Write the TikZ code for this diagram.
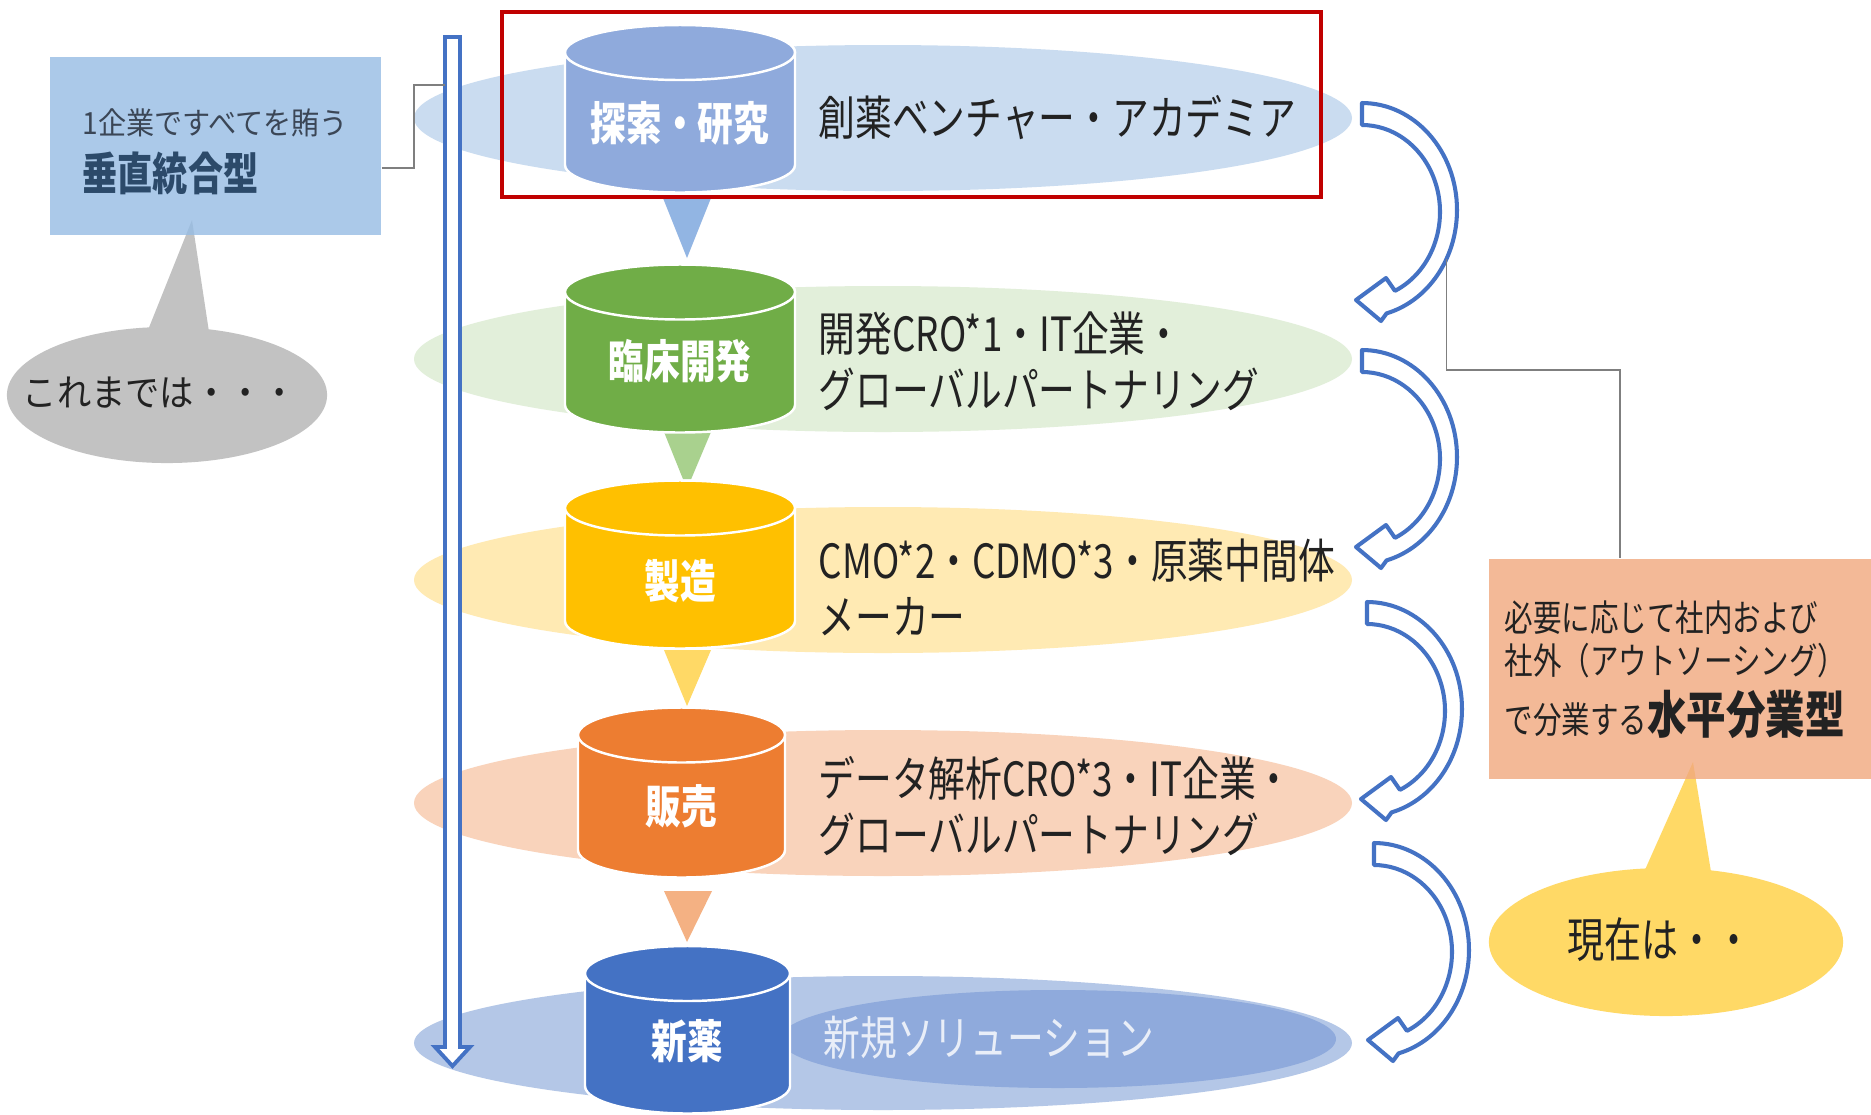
\documentclass[tikz,border=0pt]{standalone}
\usepackage{fontspec}
\newfontfamily\jp{Noto Sans CJK JP}[FakeStretch=0.78]
\newfontfamily\jpw{Noto Sans CJK JP}[FakeStretch=0.92]
\usetikzlibrary{calc,shapes.geometric}
\definecolor{eA}{HTML}{CADCF0}
\definecolor{eB}{HTML}{E2EFDA}
\definecolor{eC}{HTML}{FFEAB3}
\definecolor{eD}{HTML}{F9D3BB}
\definecolor{eE}{HTML}{B4C7E7}
\definecolor{eEin}{HTML}{8FAADC}
\definecolor{cA}{HTML}{8FAADC}
\definecolor{cB}{HTML}{70AD47}
\definecolor{cC}{HTML}{FFC000}
\definecolor{cD}{HTML}{ED7D31}
\definecolor{cE}{HTML}{4472C4}
\definecolor{tA}{HTML}{92B5E3}
\definecolor{tB}{HTML}{A9D18E}
\definecolor{tC}{HTML}{FFD966}
\definecolor{tD}{HTML}{F4B183}
\definecolor{abl}{HTML}{4472C4}
\definecolor{vboxc}{HTML}{96BCE4}
\definecolor{hboxc}{HTML}{F1A87E}
\definecolor{bubg}{HTML}{C2C2C2}
\definecolor{buby}{HTML}{FFD966}
\definecolor{redc}{HTML}{C00000}
\definecolor{txt}{HTML}{222222}
\definecolor{newc}{HTML}{E9EEF8}
\definecolor{vtA}{HTML}{3B4656}
\definecolor{vtB}{HTML}{2C4A6A}
\definecolor{connc}{HTML}{7F7F7F}
\tikzset{
  drumlbl/.style={font=\jp\bfseries\fontsize{13pt}{15pt}\selectfont, text=white, inner sep=0},
  rtxt/.style={font=\jp\fontsize{13.4pt}{15.9pt}\selectfont, text=txt, anchor=west, inner sep=0, align=left},
  cyl/.style={fill=#1, draw=white, line width=0.7pt},
  carrow/.style={draw=abl, line width=1.15pt, fill=white, line join=round},
  connline/.style={draw=connc, line width=0.45pt},
  htxt/.style={anchor=base west, inner sep=0, font=\jp\fontsize{10.4pt}{12pt}\selectfont, text=txt}
}
\newcommand\drum[5]{%
  \path[cyl=#5] (#1-#4,#2) -- (#1-#4,#3) arc[start angle=180,end angle=0,x radius=#4,y radius=27.5]
     -- (#1+#4,#2) arc[start angle=0,end angle=-180,x radius=#4,y radius=27.5] -- cycle;
  \path[cyl=#5] (#1,#2) ellipse[x radius=#4,y radius=27.5];
}
\newcommand\bentarrow[2]{%
  \path[carrow, shift={(#1,#2)}] (0,-107) arc[start angle=-90,end angle=75,x radius=95,y radius=107]
     -- (19,111) -- (-6,90) -- (24,68) -- (32.96,80.85)
     arc[start angle=65,end angle=-90,x radius=78,y radius=87] -- cycle;
}
\begin{document}
\begin{tikzpicture}[x=0.01cm,y=-0.01cm]
\useasboundingbox (0,0) rectangle (1871,1114);
\fill[white] (0,0) rectangle (1871,1114);

% background ellipses
\fill[eA] (883,118) ellipse[x radius=469,y radius=73];
\fill[eB] (883,359) ellipse[x radius=469,y radius=73];
\fill[eC] (883,580) ellipse[x radius=469,y radius=73];
\fill[eD] (883,803) ellipse[x radius=469,y radius=73];
\fill[eE] (883,1043) ellipse[x radius=469,y radius=67];
\fill[eEin] (1058,1039) ellipse[x radius=278,y radius=49];

% triangles between stages
\fill[tA] (663,198) -- (711,198) -- (687,258) -- cycle;
\fill[tB] (664,432) -- (711,432) -- (687,489) -- cycle;
\fill[tC] (664,650) -- (711,650) -- (687,706) -- cycle;
\fill[tD] (664,891) -- (712,891) -- (687,942) -- cycle;

% cylinders
\drum{680}{52.5}{165}{115}{cA}
\drum{680}{292}{405}{115}{cB}
\drum{680}{508}{621}{115}{cC}
\drum{681.5}{735}{850}{103.5}{cD}
\drum{687.5}{973.5}{1086}{102.5}{cE}

\node[drumlbl] (s1) at (680,123) {探索・研究};
\node[drumlbl] (s2) at (680,361) {臨床開発};
\node[drumlbl] (s3) at (680,581) {製造};
\node[drumlbl] (s4) at (681,806) {販売};
\node[drumlbl] (s5) at (687,1041) {新薬};

% right texts
\node[rtxt] (r1) at (818,118) {創薬ベンチャー・アカデミア};
\node[rtxt] (r2) at (818,361) {開発CRO*1・IT企業・\\グローバルパートナリング};
\node[rtxt] (r3) at (818,587) {CMO*2・CDMO*3・原薬中間体\\メーカー};
\node[rtxt] (r4) at (818,806) {データ解析CRO*3・IT企業・\\グローバルパートナリング};
\node[rtxt, text=newc] (r5) at (823,1038) {新規ソリューション};

% vertical double arrow
\path[draw=abl, line width=1.1pt, fill=white, line join=miter]
  (445,37) -- (460,37) -- (460,1047) -- (470,1047) -- (452.5,1066) -- (435,1047) -- (445,1047) -- cycle;
\coordinate (dL) at (445,85);

% curved arrows
\bentarrow{1362}{210}
\bentarrow{1362}{457}
\bentarrow{1367}{709}
\bentarrow{1374}{950}
\coordinate (a1c) at ($(1362,210)+(27:95 and 107)$);

% left callout
\fill[bubg] (192,220) -- (142,345) -- (211,345) -- cycle;
\node[ellipse, fill=bubg, minimum width=3.2cm, minimum height=1.36cm, inner sep=0] (gbub) at (167,395) {};
\node[inner sep=0, font=\jpw\fontsize{10.6pt}{12pt}\selectfont, text=txt] (gtxt) at (160,393) {これまでは・・・};
\node[fill=vboxc, fill opacity=0.8, minimum width=3.31cm, minimum height=1.78cm, inner sep=0] (vbox) at (215.5,146) {};
\node[anchor=west, inner sep=0, font=\jpw\fontsize{8.7pt}{10pt}\selectfont, text=vtA] (vb1) at (82,123) {1企業ですべてを賄う};
\node[anchor=west, inner sep=0, font=\jp\bfseries\fontsize{12.8pt}{14pt}\selectfont, text=vtB] (vb2) at (82,173) {垂直統合型};

% right callout
\fill[buby] (1693,762) -- (1636,890) -- (1714,890) -- cycle;
\node[ellipse, fill=buby, minimum width=3.54cm, minimum height=1.48cm, inner sep=0] (ybub) at (1666,942) {};
\node[inner sep=0, font=\jp\fontsize{13.5pt}{15pt}\selectfont, text=txt] (ytxt) at (1660,940) {現在は・・};
\node[fill=hboxc, fill opacity=0.8, minimum width=3.82cm, minimum height=2.2cm, inner sep=0] (hbox) at (1680,669) {};
\node[htxt] (h1) at (1504,631) {必要に応じて社内および};
\node[htxt] (h2) at (1504,674) {社外（アウトソーシング）};
\node[htxt] (h3) at (1504,733) {で分業する{\bfseries\fontsize{14.4pt}{16pt}\selectfont 水平分業型}};

% connectors
\draw[connline] ([yshift=-0.22cm]vbox.east) -- ++(32,0) |- (dL);
\draw[connline] (a1c) -- (a1c |- 0,370) -| ([xshift=-0.6cm]hbox.north);

% red frame
\draw[redc, line width=1.2pt] (502,12) rectangle (1321,197);
\end{tikzpicture}
\end{document}
